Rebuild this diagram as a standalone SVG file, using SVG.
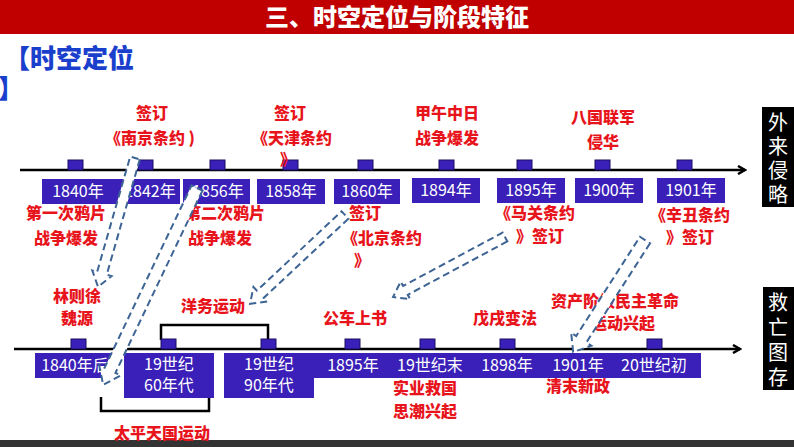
<svg xmlns="http://www.w3.org/2000/svg" width="794" height="447" viewBox="0 0 794 447">
<style>
.r{font-family:"Noto Sans CJK SC","Liberation Sans",sans-serif;font-weight:900;font-size:16px;fill:#e8141c;text-anchor:middle}
.w{font-family:"Noto Sans CJK SC","Liberation Sans",sans-serif;font-size:16px;fill:#fff;text-anchor:middle}
.bx{fill:#3a1fb8}
.sq{fill:#3a1fb8;stroke:#1a0f60;stroke-width:1}
.ln{stroke:#000;stroke-width:2.5;fill:none}
.ar{fill:#fff;stroke:#3d6494;stroke-width:2;stroke-dasharray:7 4}
.side{fill:#000}
.st{font-family:"Noto Sans CJK SC",sans-serif;font-size:20px;fill:#fff;text-anchor:middle}
</style>
<defs>
<marker id="ah" markerWidth="10" markerHeight="10" refX="8" refY="5" orient="auto" markerUnits="userSpaceOnUse"><path d="M1,1 L8,5 L1,9" fill="none" stroke="#000" stroke-width="2.5"/></marker>
</defs>
<rect x="0" y="0" width="794" height="34" fill="#c00000"/>
<text x="397" y="26" style="font-family:'Noto Sans CJK SC',sans-serif;font-weight:900;font-size:24px;fill:#fff;text-anchor:middle">三、时空定位与阶段特征</text>
<rect x="0" y="440" width="794" height="7" fill="#333"/>
<text x="4" y="68" style="font-family:'Noto Sans CJK SC',sans-serif;font-weight:900;font-size:26px;fill:#1a3fcc">【时空定位</text>
<text x="-2" y="98" style="font-family:'Noto Sans CJK SC',sans-serif;font-weight:900;font-size:26px;fill:#1a3fcc">】</text>
<g id="side1"><rect class="side" x="762" y="107" width="32" height="100"/><text class="st" x="778" y="130">外</text><text class="st" x="778" y="154">来</text><text class="st" x="778" y="178">侵</text><text class="st" x="778" y="202">略</text></g>
<g id="side2"><rect class="side" x="763" y="287" width="31" height="103"/><text class="st" x="778" y="310">救</text><text class="st" x="778" y="335">亡</text><text class="st" x="778" y="360">图</text><text class="st" x="778" y="385">存</text></g>
<g id="timelines">
<line class="ln" x1="20" y1="170" x2="745" y2="170" marker-end="url(#ah)"/>
<line class="ln" x1="14" y1="349" x2="740" y2="349" marker-end="url(#ah)"/>
<path class="ln" d="M161,340 V325 H268 V340"/>
<path class="ln" d="M101,397 V411 H209 V397"/>
</g>
<g id="top-nodes">
<rect class="sq" x="68" y="160" width="15" height="10"/><rect class="sq" x="138" y="160" width="15" height="10"/><rect class="sq" x="210" y="160" width="15" height="10"/><rect class="sq" x="283" y="160" width="15" height="10"/><rect class="sq" x="358" y="160" width="15" height="10"/><rect class="sq" x="439" y="160" width="15" height="10"/><rect class="sq" x="517" y="160" width="15" height="10"/><rect class="sq" x="595" y="160" width="15" height="10"/><rect class="sq" x="677" y="160" width="15" height="10"/>
<g id="n1840"><rect class="bx" x="42" y="179" width="78" height="25"/><text class="w" x="78" y="197">1840年</text></g>
<g id="n1842"><rect class="bx" x="120" y="179" width="60" height="25"/><text class="w" x="150" y="197">1842年</text></g>
<g id="n1856"><rect class="bx" x="183" y="179" width="67" height="25"/><text class="w" x="218" y="197">1856年</text></g>
<g id="n1858"><rect class="bx" x="257" y="179" width="68" height="25"/><text class="w" x="291" y="197">1858年</text></g>
<g id="n1860"><rect class="bx" x="334" y="179" width="66" height="25"/><text class="w" x="367" y="197">1860年</text></g>
<g id="n1894"><rect class="bx" x="412" y="178" width="68" height="25"/><text class="w" x="446" y="196">1894年</text></g>
<g id="n1895"><rect class="bx" x="497" y="178" width="68" height="25"/><text class="w" x="531" y="196">1895年</text></g>
<g id="n1900"><rect class="bx" x="575" y="178" width="68" height="25"/><text class="w" x="609" y="196">1900年</text></g>
<g id="n1901"><rect class="bx" x="657" y="178" width="68" height="25"/><text class="w" x="691" y="196">1901年</text></g>
</g>
<g id="bottom-nodes">
<rect class="sq" x="71" y="339" width="15" height="10"/><rect class="sq" x="161" y="339" width="15" height="10"/><rect class="sq" x="261" y="339" width="15" height="10"/><rect class="sq" x="345" y="339" width="15" height="10"/><rect class="sq" x="420" y="339" width="15" height="10"/><rect class="sq" x="500" y="339" width="15" height="10"/><rect class="sq" x="647" y="339" width="15" height="10"/>
<rect class="bx" x="313" y="353" width="388" height="25"/>
<g id="b1840"><rect class="bx" x="35" y="353" width="78" height="25"/><text class="w" x="75" y="371">1840年后</text></g>
<g id="b60"><rect class="bx" x="124" y="353" width="90" height="45"/><text class="w" x="169" y="370">19世纪</text><text class="w" x="169" y="391">60年代</text></g>
<g id="b90"><rect class="bx" x="224" y="353" width="90" height="45"/><text class="w" x="269" y="370">19世纪</text><text class="w" x="269" y="391">90年代</text></g>
<g id="b1895"><text class="w" x="353" y="371">1895年</text></g>
<g id="b19end"><text class="w" x="430" y="371">19世纪末</text></g>
<g id="b1898"><text class="w" x="507" y="371">1898年</text></g>
<g id="b1901"><text class="w" x="578" y="371">1901年</text></g>
<g id="b20"><text class="w" x="654" y="371">20世纪初</text></g>
</g>
<g id="labels">
<text class="r" x="152" y="119">签订</text><text class="r" x="150" y="144">《南京条约 )</text>
<text class="r" x="290" y="119">签订</text><text class="r" x="292" y="144">《天津条约</text><text class="r" x="288" y="165">》</text>
<text class="r" x="447" y="119">甲午中日</text><text class="r" x="447" y="144">战争爆发</text>
<text class="r" x="603" y="123">八国联军</text><text class="r" x="603" y="148">侵华</text>
<text class="r" x="66" y="219">第一次鸦片</text><text class="r" x="66" y="244">战争爆发</text>
<text class="r" x="225" y="219">第二次鸦片</text><text class="r" x="220" y="244">战争爆发</text>
<text class="r" x="365" y="219">签订</text><text class="r" x="382" y="244">《北京条约</text><text class="r" x="362" y="266">》</text>
<text class="r" x="535" y="219">《马关条约</text><text class="r" x="540" y="242">》签订</text>
<text class="r" x="690" y="221">《辛丑条约</text><text class="r" x="690" y="243">》签订</text>
<text class="r" x="77" y="302">林则徐</text><text class="r" x="77" y="324">魏源</text>
<text class="r" x="213" y="312">洋务运动</text>
<text class="r" x="355" y="324">公车上书</text>
<text class="r" x="505" y="324">戊戌变法</text>
<text class="r" x="615" y="307">资产阶级民主革命</text><text class="r" x="623" y="329">运动兴起</text>
<text class="r" x="425" y="394">实业救国</text><text class="r" x="425" y="417">思潮兴起</text>
<text class="r" x="578" y="392">清末新政</text>
<text class="r" x="162" y="439">太平天国运动</text>
</g>
<g id="connectors">
<polygon class="ar" transform="translate(135,158) rotate(106)" points="0,-5 120,-5 120,-10 134,0 120,10 120,5 0,5"/>
<polygon class="ar" transform="translate(197,188) rotate(115.5)" points="0,-6 202,-6 202,-12 218,0 202,12 202,6 0,6"/>
<polygon class="ar" transform="translate(345,215) rotate(136.9)" points="0,-5 116,-5 116,-10 130,0 116,10 116,5 0,5"/>
<polygon class="ar" transform="translate(505,237) rotate(151.8)" points="0,-5 113,-5 113,-10 127,0 113,10 113,5 0,5"/>
<polygon class="ar" transform="translate(645,240) rotate(122.7)" points="0,-6 118,-6 118,-12 133,0 118,12 118,6 0,6"/>
</g>
</svg>
